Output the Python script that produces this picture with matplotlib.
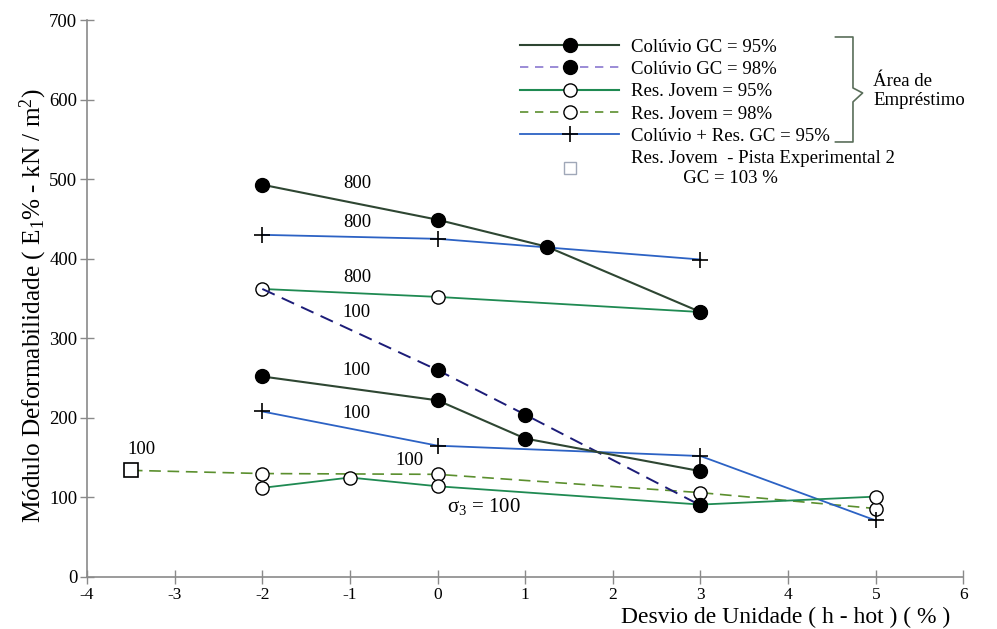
import matplotlib
matplotlib.use("Agg")
import matplotlib.pyplot as plt
from matplotlib.lines import Line2D

plt.rcParams['font.family'] = ['Liberation Serif', 'DejaVu Serif']
plt.rcParams['mathtext.fontset'] = 'custom'
plt.rcParams['mathtext.rm'] = 'Liberation Serif'
plt.rcParams['mathtext.it'] = 'Liberation Serif:italic'
plt.rcParams['mathtext.default'] = 'regular'
plt.rcParams['axes.unicode_minus'] = False

# Colúvio GC = 95%
col95_800_x = [-2, 0, 1.25, 3]
col95_800_y = [493, 449, 415, 333]
col95_100_x = [-2, 0, 1, 3]
col95_100_y = [252, 222, 174, 133]
# Colúvio GC = 98%
col98_100_x = [-2, 0, 1, 3]
col98_100_y = [362, 260, 204, 90]
# Res. Jovem = 95%
rj95_800_x = [-2, 0, 3]
rj95_800_y = [362, 352, 333]
rj95_100_x = [-2, -1, 0, 3, 5]
rj95_100_y = [112, 125, 114, 91, 101]
# Res. Jovem = 98%
rj98_100_x = [-2, 0, 3, 5]
rj98_100_y = [130, 129, 106, 86]
# Colúvio + Res. GC = 95%
cr95_800_x = [-2, 0, 3]
cr95_800_y = [430, 425, 399]
cr95_100_x = [-2, 0, 3, 5]
cr95_100_y = [208, 165, 152, 71]
# Res. Jovem - Pista Experimental 2
pista_x = [-3.5]
pista_y = [134]

# tensão confinante (rótulos)
lab_x = [-0.92, -0.92, -0.92, -0.92, -0.92, -0.92, -3.38, -0.32]
lab_y = [494, 446, 377, 333, 259, 206, 160, 147]
lab_txt = ['800', '800', '800', '100', '100', '100', '100', '100']

c_col95 = '#2e4632'
c_col98 = '#1c1c78'
c_rj95 = '#1f8a52'
c_rj98 = '#5b8f2e'
c_cr95 = '#2c62c4'

fig = plt.figure(figsize=(9.97, 6.29), dpi=100)
ax = fig.add_axes([0.0873, 0.0827, 0.879, 0.8855])

ax.plot(pista_x + rj98_100_x[:1], pista_y + rj98_100_y[:1], '--', color=c_rj98,
        lw=1.2, dashes=(7, 4), zorder=2)
ax.plot(rj98_100_x, rj98_100_y, '--', color=c_rj98, lw=1.2, dashes=(7, 4),
        marker='o', ms=9.5, mfc='white', mec='black', zorder=3)
ax.plot(cr95_800_x, cr95_800_y, '-', color=c_cr95, lw=1.3,
        marker='+', ms=12, mec='black', mew=1.2, zorder=3)
ax.plot(cr95_100_x, cr95_100_y, '-', color=c_cr95, lw=1.3,
        marker='+', ms=12, mec='black', mew=1.2, zorder=3)
ax.plot(rj95_800_x, rj95_800_y, '-', color=c_rj95, lw=1.3,
        marker='o', ms=9.5, mfc='white', mec='black', zorder=4)
ax.plot(rj95_100_x, rj95_100_y, '-', color=c_rj95, lw=1.3,
        marker='o', ms=9.5, mfc='white', mec='black', zorder=4)
ax.plot(col98_100_x, col98_100_y, '--', color=c_col98, lw=1.4, dashes=(7, 4),
        marker='o', ms=10, mfc='black', mec='black', markevery=[1, 2, 3], zorder=5)
ax.plot(col95_800_x, col95_800_y, '-', color=c_col95, lw=1.5,
        marker='o', ms=10, mfc='black', mec='black', zorder=5)
ax.plot(col95_100_x, col95_100_y, '-', color=c_col95, lw=1.5,
        marker='o', ms=10, mfc='black', mec='black', zorder=5)
ax.plot(pista_x, pista_y, 's', ms=10, mfc='white', mec='black', mew=1.2, zorder=5)

for x, y, s in zip(lab_x, lab_y, lab_txt):
    ax.text(x, y, s, ha='center', va='center', fontsize=13.5)
ax.text(0.11, 88, r'$\sigma_3$ = 100', ha='left', va='center', fontsize=15)

ax.set_xlim(-4, 6)
ax.set_ylim(0, 700)
ax.set_xticks(range(-4, 7))
ax.set_yticks(range(0, 701, 100))
for s in ['top', 'right']:
    ax.spines[s].set_visible(False)
for s in ['left', 'bottom']:
    ax.spines[s].set_color('#8a8a8a')
    ax.spines[s].set_linewidth(1.2)
ax.tick_params(direction='inout', length=10, color='#8a8a8a', width=1)
ax.tick_params(axis='x', pad=2, labelsize=12.5)
ax.tick_params(axis='y', pad=2, labelsize=13.5)
ax.set_xlabel('Desvio de Unidade ( h - hot ) ( % )', fontsize=17)
ax.xaxis.set_label_coords(0.797, -0.053)
ax.set_ylabel(r'Módulo Deformabilidade ( E$_1$% - kN / m$^2$)', fontsize=18.2)
ax.yaxis.set_label_coords(-0.043, 0.487)

handles = [
    Line2D([], [], color=c_col95, lw=1.5, marker='o', ms=10, mfc='black', mec='black'),
    Line2D([], [], color='#8a78d0', lw=1.2, ls='--', dashes=(5, 4), marker='o', ms=10, mfc='black', mec='black'),
    Line2D([], [], color=c_rj95, lw=1.5, marker='o', ms=9.5, mfc='white', mec='black'),
    Line2D([], [], color=c_rj98, lw=1.2, ls='--', dashes=(5, 4), marker='o', ms=9.5, mfc='white', mec='black'),
    Line2D([], [], color=c_cr95, lw=1.3, marker='+', ms=12, mec='black', mew=1.2),
    Line2D([], [], ls='none', marker='s', ms=9, mfc='white', mec='#a0a8b8'),
]
labels = ['Colúvio GC = 95%', 'Colúvio GC = 98%', 'Res. Jovem = 95%', 'Res. Jovem = 98%',
          'Colúvio + Res. GC = 95%',
          'Res. Jovem  - Pista Experimental 2\n           GC = 103 %']
ax.legend(handles, labels, loc='upper left', bbox_to_anchor=(0.494, 0.967),
          frameon=False, fontsize=13.5, handlelength=5.3, handletextpad=0.64,
          labelspacing=0.28, borderpad=0, borderaxespad=0)

# chave "Área de Empréstimo"
bx = [0.854, 0.874, 0.874, 0.885, 0.874, 0.874, 0.854]
by = [0.9695, 0.9695, 0.878, 0.869, 0.853, 0.781, 0.781]
ax.plot(bx, by, color='#5a6e5a', lw=1.2, transform=ax.transAxes, clip_on=False)
ax.text(0.897, 0.873, 'Área de\nEmpréstimo', transform=ax.transAxes,
        ha='left', va='center', fontsize=13.5, linespacing=1.15)

fig.savefig('out.png', dpi=100)
